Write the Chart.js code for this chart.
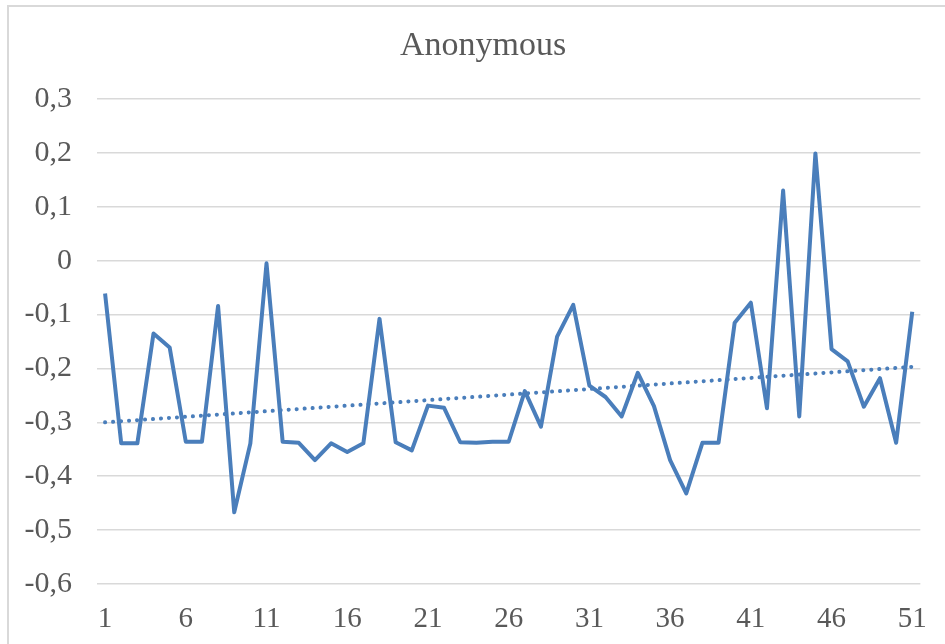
<!DOCTYPE html>
<html>
<head>
<meta charset="utf-8">
<script src="https://cdn.jsdelivr.net/npm/chart.js@4"></script>
<style>
  html, body { margin: 0; padding: 0; width: 945px; height: 644px; overflow: hidden; background: #fff; }
  #frame { position: absolute; left: 7px; top: 5px; width: 2000px; height: 2000px; border: 2px solid #d9d9d9; box-sizing: border-box; }
  #wrap { position: absolute; left: 0; top: 0; width: 945px; height: 644px; }
</style>
</head>
<body>
<div id="frame"></div>
<div id="wrap"><canvas id="c" width="945" height="644"></canvas></div>
<script>
const chartTitle = "Anonymous";
const categories = Array.from({length: 51}, (_, i) => String(i + 1));
const values = [
  -0.061, -0.339, -0.339, -0.135, -0.161, -0.336, -0.336, -0.084, -0.467, -0.339,
  -0.005, -0.336, -0.338, -0.370, -0.339, -0.355, -0.339, -0.108, -0.337, -0.352,
  -0.269, -0.273, -0.337, -0.338, -0.336, -0.336, -0.242, -0.308, -0.141, -0.082,
  -0.232, -0.253, -0.289, -0.208, -0.270, -0.370, -0.432, -0.338, -0.338, -0.115,
  -0.078, -0.274,  0.130, -0.289,  0.199, -0.164, -0.187, -0.271, -0.218, -0.338,
  -0.095
];
const trendStart = -0.300;
const trendEnd = -0.197;
const yMin = -0.6, yMax = 0.3, yStep = 0.1;
const xLabelEvery = 5;

const trendData = categories.map((_, i) => i === 0 ? trendStart : (i === categories.length - 1 ? trendEnd : null));
const textColor = '#595959';
const fontFamily = '"Liberation Serif", "Times New Roman", serif';

const shiftTitle = {
  id: 'shiftTitle',
  afterLayout(chart) {
    if (chart.titleBlock) { chart.titleBlock.left = 45; }
  }
};

new Chart(document.getElementById('c'), {
  type: 'line',
  data: {
    labels: categories,
    datasets: [
      {
        data: values,
        borderColor: '#4a7ebb',
        borderWidth: 4,
        pointRadius: 0,
        tension: 0,
        borderJoinStyle: 'round',
        fill: false,
        order: 2
      },
      {
        data: trendData,
        borderColor: '#4a7ebb',
        borderWidth: 4,
        borderCapStyle: 'round',
        borderDash: [0.1, 7.9],
        pointRadius: 0,
        spanGaps: true,
        fill: false,
        order: 1
      }
    ]
  },
  plugins: [shiftTitle],
  options: {
    responsive: false,
    animation: false,
    events: [],
    layout: { padding: { left: 0, right: 24, top: 0, bottom: 0 } },
    plugins: {
      legend: { display: false },
      tooltip: { enabled: false },
      title: {
        display: true,
        text: chartTitle,
        color: textColor,
        font: { family: fontFamily, size: 34, weight: 'normal', lineHeight: 1.2 },
        padding: { top: 26, bottom: 32.2 }
      }
    },
    scales: {
      x: {
        type: 'category',
        offset: true,
        grid: { display: false, drawTicks: false },
        border: { display: false },
        afterFit: (s) => { s.height = 60; },
        ticks: {
          autoSkip: false,
          maxRotation: 0,
          padding: 18,
          color: textColor,
          font: { family: fontFamily, size: 29 },
          callback: function(v, i) { return i % xLabelEvery === 0 ? categories[i] : ''; }
        }
      },
      y: {
        min: yMin,
        max: yMax,
        grid: { color: '#d9d9d9', lineWidth: 1.5, drawTicks: false },
        border: { display: false },
        afterFit: (s) => { s.width = 97; },
        ticks: {
          stepSize: yStep,
          padding: 25,
          color: textColor,
          font: { family: fontFamily, size: 30 },
          callback: (v) => {
            const r = Math.round(v * 10) / 10;
            return r === 0 ? '0' : r.toFixed(1).replace('.', ',');
          }
        }
      }
    }
  }
});
</script>
</body>
</html>
